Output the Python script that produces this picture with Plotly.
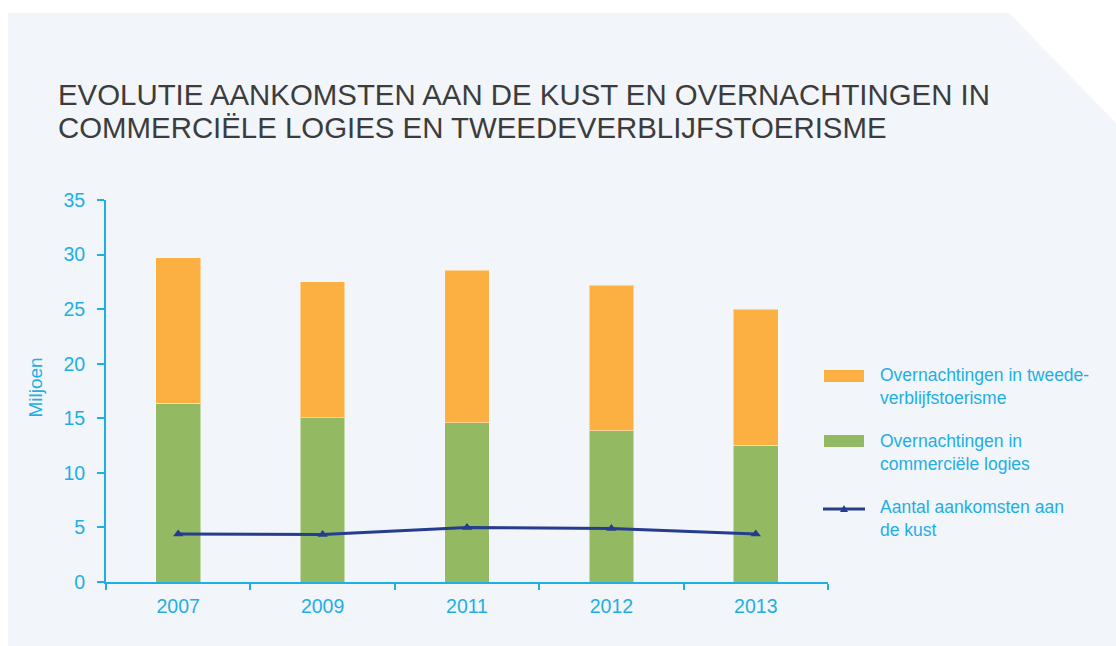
import plotly.graph_objects as go

# ---- data ----
years = ["2007", "2009", "2011", "2012", "2013"]
commercieel = [16.4, 15.05, 14.6, 13.85, 12.55]
tweedeverblijf = [13.3, 12.45, 13.95, 13.35, 12.45]
aankomsten = [4.4, 4.35, 5.0, 4.9, 4.4]

title_lines = ["EVOLUTIE AANKOMSTEN AAN DE KUST EN OVERNACHTINGEN IN",
               "COMMERCIËLE LOGIES EN TWEEDEVERBLIJFSTOERISME"]
legend_labels = ["Overnachtingen in tweede-<br>verblijfstoerisme",
                 "Overnachtingen in<br>commerciële logies",
                 "Aantal aankomsten aan<br>de kust"]
y_title = "Miljoen"

# ---- styles ----
W, H = 1116, 646
L, R, T, B = 106, 288, 200, 64
PW, PH = W - L - R, H - T - B
ORANGE = "#FDB042"
GREEN = "#93BA63"
NAVY = "#263C8E"
CYAN = "#1DAFE6"
PANEL = "#F2F5FA"
FONT = "Liberation Sans, Arial, Helvetica, sans-serif"


def px(x):
    return (x - L) / PW


def py(y):
    return 1 - (y - T) / PH


fig = go.Figure()
fig.add_trace(go.Bar(x=years, y=commercieel, name="commercieel",
                     marker=dict(color=GREEN, line=dict(color="rgba(255,255,255,0.45)", width=1)),
                     width=0.31, hoverinfo="y"))
fig.add_trace(go.Bar(x=years, y=tweedeverblijf, name="tweedeverblijf",
                     marker=dict(color=ORANGE, line=dict(color="rgba(255,255,255,0.45)", width=1)),
                     width=0.31, hoverinfo="y"))
fig.add_trace(go.Scatter(x=years, y=aankomsten, mode="lines+markers", name="aankomsten",
                         line=dict(color=NAVY, width=3),
                         marker=dict(symbol="triangle-up", size=9, color=NAVY)))

shapes = []
# panel background with cut corner
pts = [(8, 13), (1009, 13), (1116, 123), (1116, 646), (8, 646)]
path = "M " + " L ".join(f"{px(x):.5f},{py(y):.5f}" for x, y in pts) + " Z"
shapes.append(dict(type="path", xref="paper", yref="paper", path=path,
                   fillcolor=PANEL, line=dict(width=0), layer="below"))
# legend swatches
shapes.append(dict(type="rect", xref="paper", yref="paper", x0=px(824), x1=px(864),
                   y0=py(370), y1=py(382), fillcolor=ORANGE, line=dict(width=0)))
shapes.append(dict(type="rect", xref="paper", yref="paper", x0=px(824), x1=px(864),
                   y0=py(435), y1=py(447), fillcolor=GREEN, line=dict(width=0)))
shapes.append(dict(type="line", xref="paper", yref="paper", x0=px(823), x1=px(865),
                   y0=py(509), y1=py(509), line=dict(color=NAVY, width=3)))
tri = [(840, 512), (848, 512), (844, 505)]
shapes.append(dict(type="path", xref="paper", yref="paper",
                   path="M " + " L ".join(f"{px(x):.5f},{py(y):.5f}" for x, y in tri) + " Z",
                   fillcolor=NAVY, line=dict(width=0)))

annotations = []
for txt, yc in zip(title_lines, [94.5, 127.5]):
    annotations.append(dict(text=txt, xref="paper", yref="paper", x=px(56), y=py(yc),
                            xanchor="left", yanchor="middle", showarrow=False,
                            font=dict(family=FONT, size=29.4, color="#3C3C3C")))
for txt, yc in zip(legend_labels, [386, 452, 518]):
    annotations.append(dict(text=txt, xref="paper", yref="paper", x=px(878), y=py(yc),
                            xanchor="left", yanchor="middle", align="left", showarrow=False,
                            font=dict(family=FONT, size=17.5, color=CYAN)))
annotations.append(dict(text=y_title, xref="paper", yref="paper", x=px(34.5), y=py(388),
                        xanchor="center", yanchor="middle", textangle=-90, showarrow=False,
                        font=dict(family=FONT, size=19, color=CYAN)))

fig.update_layout(
    width=W, height=H,
    margin=dict(l=L, r=R, t=T, b=B, autoexpand=False),
    paper_bgcolor="white", plot_bgcolor="rgba(0,0,0,0)",
    barmode="stack", showlegend=False,
    shapes=shapes, annotations=annotations,
    font=dict(family=FONT, color=CYAN, size=17),
    xaxis=dict(type="category", range=[-0.5, 4.5], tickson="boundaries",
               ticks="outside", ticklen=6, tickwidth=2, tickcolor=CYAN,
               showline=True, linecolor=CYAN, linewidth=2, showgrid=False,
               tickfont=dict(family=FONT, size=19.5, color=CYAN),
               ticklabelstandoff=6),
    yaxis=dict(range=[0, 35], dtick=5, ticks="outside", ticklen=7, tickwidth=2,
               tickcolor=CYAN, showline=True, linecolor=CYAN, linewidth=2,
               showgrid=False, zeroline=False,
               tickfont=dict(family=FONT, size=19.5, color=CYAN),
               ticklabelstandoff=8),
)

fig.write_html("out.html", config={"displayModeBar": False},
               post_script="document.body.style.margin='0px';")
